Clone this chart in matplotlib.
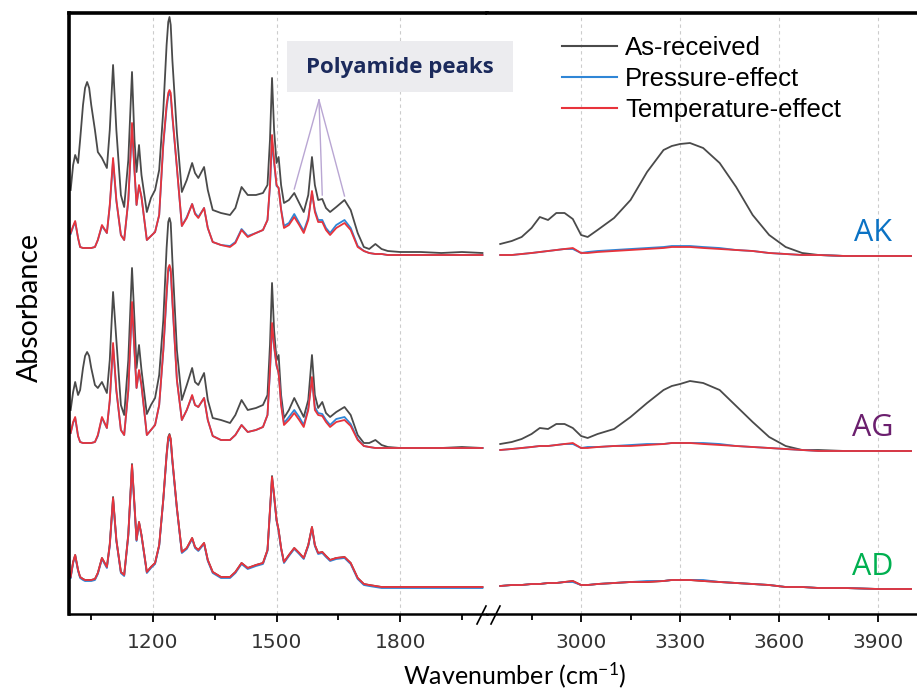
import matplotlib
matplotlib.use("Agg")
import matplotlib.pyplot as plt
from matplotlib.lines import Line2D
from matplotlib.patches import Rectangle

plt.rcParams["mathtext.fontset"] = "custom"
plt.rcParams["mathtext.rm"] = "Lato"
plt.rcParams["mathtext.it"] = "Lato:italic"
plt.rcParams["mathtext.bf"] = "Lato:bold"

# ---- data (absorbance above each sample's baseline, a.u.) ----
wn_left = [1000, 1006, 1011, 1018, 1023, 1030, 1035, 1040, 1045, 1050, 1059, 1066,
           1076, 1088, 1095, 1103, 1111, 1122, 1130, 1140, 1149, 1155,
           1160, 1166, 1172, 1185, 1195, 1205, 1215, 1225, 1233, 1237, 1240, 1243,
           1247, 1258, 1270, 1282, 1295, 1302, 1310, 1324, 1333, 1345,
           1365, 1387, 1400, 1415, 1430, 1450, 1467, 1478, 1484, 1489,
           1494, 1500, 1505, 1511, 1518, 1530, 1543, 1555, 1566, 1577,
           1586, 1593, 1601, 1611, 1620, 1630, 1645, 1665, 1680, 1697,
           1712, 1725, 1740, 1755, 1770, 1800, 1850, 1900, 1950, 2000]

wn_right = [2755, 2790, 2820, 2850, 2875, 2900, 2925, 2950, 2975, 3000,
            3020, 3050, 3100, 3150, 3200, 3250, 3275, 3300, 3330, 3370, 3420,
            3470, 3520, 3570, 3620, 3670, 3720, 3800, 3900, 4000]

# AK
ak_recv_left = [0.63, 0.88, 0.98, 0.90, 1.13, 1.48, 1.65, 1.71, 1.65, 1.48, 1.23, 1.01,
                0.95, 0.85, 1.23, 1.88, 1.23, 0.58, 0.46, 0.93, 1.81, 1.13,
                0.81, 1.08, 0.78, 0.41, 0.55, 0.63, 0.83, 1.43, 2.08, 2.31, 2.36, 2.28,
                1.93, 1.20, 0.61, 0.73, 0.90, 0.80, 0.75, 0.86, 0.63, 0.43,
                0.40, 0.38, 0.45, 0.66, 0.58, 0.58, 0.60, 0.68, 1.13, 1.75,
                1.23, 0.90, 0.96, 0.68, 0.50, 0.53, 0.60, 0.50, 0.41, 0.58,
                0.96, 0.68, 0.53, 0.54, 0.45, 0.41, 0.46, 0.53, 0.43, 0.20,
                0.06, 0.04, 0.09, 0.04, 0.02, 0.01, 0.01, 0.00, 0.01, 0.00]
ak_pres_left = [0.19, 0.26, 0.31, 0.15, 0.06, 0.05, 0.05, 0.05, 0.05, 0.05, 0.06, 0.13,
                0.27, 0.20, 0.47, 0.92, 0.52, 0.18, 0.13, 0.52, 1.25, 0.82,
                0.48, 0.67, 0.56, 0.13, 0.17, 0.21, 0.38, 1.08, 1.45, 1.57, 1.60, 1.57,
                1.36, 0.85, 0.27, 0.36, 0.49, 0.40, 0.36, 0.45, 0.25, 0.11,
                0.08, 0.07, 0.11, 0.24, 0.17, 0.20, 0.23, 0.33, 0.66, 1.12,
                0.90, 0.67, 0.65, 0.44, 0.27, 0.30, 0.39, 0.30, 0.22, 0.35,
                0.60, 0.43, 0.33, 0.33, 0.25, 0.20, 0.28, 0.33, 0.25, 0.07,
                0.02, 0.00, -0.01, -0.01, -0.02, -0.02, -0.02, -0.02, -0.02, -0.02]
ak_temp_left = [0.20, 0.27, 0.32, 0.15, 0.06, 0.05, 0.05, 0.05, 0.05, 0.05, 0.06, 0.13,
                0.28, 0.20, 0.48, 0.95, 0.53, 0.18, 0.13, 0.53, 1.30, 0.83,
                0.48, 0.68, 0.56, 0.13, 0.17, 0.21, 0.38, 1.10, 1.48, 1.60, 1.63, 1.60,
                1.38, 0.86, 0.27, 0.35, 0.49, 0.39, 0.35, 0.45, 0.25, 0.11,
                0.08, 0.06, 0.10, 0.23, 0.16, 0.20, 0.23, 0.33, 0.68, 1.18,
                0.93, 0.68, 0.65, 0.43, 0.25, 0.28, 0.36, 0.28, 0.20, 0.33,
                0.62, 0.41, 0.31, 0.31, 0.23, 0.18, 0.25, 0.30, 0.23, 0.06,
                0.02, 0.00, -0.01, -0.01, -0.02, -0.02, -0.02, -0.02, -0.02, -0.02]
ak_recv_right = [0.09, 0.12, 0.16, 0.25, 0.36, 0.33, 0.40, 0.40, 0.34, 0.18,
                 0.16, 0.23, 0.35, 0.53, 0.81, 1.03, 1.07, 1.09, 1.10, 1.05, 0.90,
                 0.66, 0.38, 0.18, 0.06, 0.00, -0.02, -0.03, -0.03, -0.03]
ak_pres_right = [-0.02, -0.02, -0.01, 0.00, 0.01, 0.02, 0.03, 0.04, 0.04, 0.00,
                 0.01, 0.02, 0.03, 0.04, 0.05, 0.06, 0.07, 0.07, 0.07, 0.06, 0.05,
                 0.03, 0.02, 0.00, -0.01, -0.02, -0.02, -0.03, -0.03, -0.03]
ak_temp_right = [-0.02, -0.02, -0.01, 0.00, 0.01, 0.02, 0.03, 0.04, 0.05, 0.00,
                 0.00, 0.01, 0.02, 0.03, 0.04, 0.05, 0.06, 0.06, 0.06, 0.05, 0.04,
                 0.03, 0.02, 0.00, -0.01, -0.02, -0.02, -0.03, -0.03, -0.03]

# AG
ag_recv_left = [0.38, 0.56, 0.66, 0.53, 0.58, 0.80, 0.92, 0.96, 0.92, 0.80, 0.63, 0.60,
                0.66, 0.55, 0.88, 1.56, 1.08, 0.43, 0.33, 0.88, 1.80, 1.28,
                0.80, 1.03, 0.78, 0.34, 0.43, 0.50, 0.73, 1.28, 2.00, 2.26, 2.30, 2.25,
                1.88, 0.98, 0.48, 0.63, 0.80, 0.66, 0.63, 0.75, 0.48, 0.30,
                0.28, 0.25, 0.33, 0.48, 0.38, 0.40, 0.43, 0.53, 1.03, 1.65,
                1.18, 0.88, 0.93, 0.53, 0.30, 0.38, 0.50, 0.40, 0.31, 0.48,
                0.93, 0.53, 0.40, 0.46, 0.35, 0.31, 0.36, 0.41, 0.33, 0.13,
                0.05, 0.05, 0.08, 0.03, 0.01, 0.00, 0.00, 0.00, 0.01, 0.00]
ag_pres_left = [0.15, 0.25, 0.30, 0.12, 0.06, 0.05, 0.05, 0.05, 0.05, 0.05, 0.06, 0.12,
                0.30, 0.20, 0.47, 1.02, 0.57, 0.18, 0.13, 0.57, 1.42, 0.96,
                0.60, 0.77, 0.62, 0.13, 0.18, 0.23, 0.43, 0.97, 1.52, 1.77, 1.80, 1.76,
                1.46, 0.68, 0.28, 0.38, 0.52, 0.43, 0.41, 0.50, 0.28, 0.12,
                0.08, 0.08, 0.13, 0.23, 0.16, 0.18, 0.21, 0.33, 0.76, 1.22,
                1.01, 0.82, 0.75, 0.45, 0.25, 0.31, 0.38, 0.31, 0.23, 0.40,
                0.69, 0.41, 0.35, 0.34, 0.28, 0.23, 0.29, 0.31, 0.24, 0.09,
                0.02, 0.01, 0.00, 0.00, 0.00, 0.00, 0.00, 0.00, 0.00, 0.00]
ag_temp_left = [0.15, 0.26, 0.31, 0.12, 0.06, 0.05, 0.05, 0.05, 0.05, 0.05, 0.06, 0.13,
                0.31, 0.20, 0.48, 1.05, 0.58, 0.18, 0.13, 0.58, 1.46, 0.98,
                0.60, 0.78, 0.63, 0.13, 0.18, 0.23, 0.43, 0.98, 1.55, 1.80, 1.83, 1.79,
                1.48, 0.68, 0.28, 0.38, 0.53, 0.43, 0.41, 0.50, 0.28, 0.12,
                0.08, 0.08, 0.13, 0.23, 0.16, 0.18, 0.21, 0.33, 0.78, 1.25,
                1.03, 0.83, 0.75, 0.43, 0.23, 0.28, 0.35, 0.28, 0.21, 0.38,
                0.71, 0.38, 0.33, 0.32, 0.26, 0.21, 0.26, 0.28, 0.22, 0.08,
                0.02, 0.01, 0.00, 0.00, 0.00, 0.00, 0.00, 0.00, 0.00, 0.00]
ag_recv_right = [0.04, 0.06, 0.09, 0.14, 0.20, 0.19, 0.24, 0.24, 0.20, 0.12,
                 0.10, 0.14, 0.19, 0.31, 0.45, 0.58, 0.62, 0.64, 0.67, 0.65, 0.58,
                 0.42, 0.26, 0.11, 0.02, -0.02, -0.02, -0.03, -0.03, -0.03]
ag_pres_right = [-0.02, -0.01, 0.00, 0.01, 0.02, 0.02, 0.03, 0.04, 0.04, 0.00,
                 0.01, 0.01, 0.02, 0.03, 0.04, 0.04, 0.05, 0.05, 0.05, 0.05, 0.04,
                 0.02, 0.01, 0.00, -0.01, -0.02, -0.03, -0.03, -0.03, -0.03]
ag_temp_right = [-0.02, -0.01, 0.00, 0.01, 0.02, 0.02, 0.03, 0.04, 0.05, 0.00,
                 0.00, 0.01, 0.02, 0.02, 0.03, 0.04, 0.05, 0.05, 0.05, 0.04, 0.03,
                 0.02, 0.01, 0.00, -0.01, -0.02, -0.03, -0.03, -0.03, -0.03]

# AD
ad_recv_left = [0.10, 0.25, 0.32, 0.17, 0.10, 0.08, 0.07, 0.07, 0.07, 0.07, 0.08, 0.14,
                0.29, 0.20, 0.43, 0.90, 0.47, 0.15, 0.12, 0.53, 1.23, 0.82,
                0.47, 0.65, 0.52, 0.15, 0.20, 0.24, 0.42, 0.88, 1.33, 1.50, 1.53, 1.48,
                1.27, 0.79, 0.35, 0.39, 0.49, 0.40, 0.37, 0.44, 0.27, 0.15,
                0.10, 0.10, 0.15, 0.24, 0.19, 0.22, 0.24, 0.37, 0.77, 1.11,
                0.92, 0.67, 0.57, 0.39, 0.25, 0.32, 0.39, 0.34, 0.29, 0.42,
                0.60, 0.42, 0.34, 0.35, 0.31, 0.27, 0.29, 0.30, 0.24, 0.09,
                0.03, 0.02, 0.01, 0.00, 0.00, 0.00, 0.00, 0.00, 0.00, 0.00]
ad_pres_left = [0.09, 0.24, 0.31, 0.16, 0.09, 0.07, 0.06, 0.06, 0.06, 0.06, 0.07, 0.13,
                0.28, 0.19, 0.41, 0.87, 0.46, 0.14, 0.11, 0.51, 1.20, 0.80,
                0.46, 0.64, 0.51, 0.14, 0.19, 0.23, 0.41, 0.87, 1.31, 1.46, 1.49, 1.45,
                1.25, 0.78, 0.34, 0.38, 0.48, 0.39, 0.36, 0.43, 0.26, 0.14,
                0.09, 0.09, 0.14, 0.23, 0.18, 0.21, 0.23, 0.36, 0.75, 1.08,
                0.90, 0.66, 0.56, 0.38, 0.24, 0.31, 0.38, 0.33, 0.28, 0.41,
                0.59, 0.41, 0.33, 0.34, 0.30, 0.26, 0.28, 0.29, 0.23, 0.08,
                0.02, 0.01, 0.00, -0.01, -0.01, -0.01, -0.01, -0.01, -0.01, -0.01]
ad_temp_left = [0.10, 0.25, 0.32, 0.17, 0.10, 0.08, 0.07, 0.07, 0.07, 0.07, 0.08, 0.14,
                0.29, 0.20, 0.42, 0.89, 0.47, 0.15, 0.12, 0.52, 1.22, 0.82,
                0.47, 0.65, 0.52, 0.15, 0.20, 0.24, 0.42, 0.88, 1.32, 1.49, 1.52, 1.48,
                1.27, 0.79, 0.35, 0.39, 0.49, 0.40, 0.37, 0.44, 0.27, 0.15,
                0.10, 0.10, 0.15, 0.24, 0.19, 0.22, 0.24, 0.37, 0.77, 1.10,
                0.92, 0.67, 0.57, 0.39, 0.25, 0.32, 0.39, 0.34, 0.29, 0.42,
                0.60, 0.42, 0.34, 0.35, 0.31, 0.27, 0.29, 0.30, 0.24, 0.09,
                0.03, 0.02, 0.01, 0.00, 0.00, 0.00, 0.00, 0.00, 0.00, 0.00]
ad_recv_right = [0.01, 0.02, 0.02, 0.03, 0.03, 0.04, 0.04, 0.05, 0.06, 0.02,
                 0.02, 0.03, 0.04, 0.05, 0.05, 0.06, 0.07, 0.07, 0.07, 0.06, 0.05,
                 0.04, 0.03, 0.02, 0.00, 0.00, -0.01, -0.01, -0.02, -0.02]
ad_pres_right = [0.01, 0.02, 0.02, 0.03, 0.03, 0.04, 0.04, 0.05, 0.05, 0.02,
                 0.02, 0.03, 0.04, 0.05, 0.06, 0.06, 0.07, 0.07, 0.07, 0.07, 0.05,
                 0.04, 0.03, 0.02, 0.00, 0.00, -0.01, -0.01, -0.02, -0.02]
ad_temp_right = [0.01, 0.02, 0.02, 0.03, 0.03, 0.04, 0.04, 0.05, 0.06, 0.02,
                 0.02, 0.03, 0.04, 0.05, 0.05, 0.06, 0.07, 0.07, 0.07, 0.06, 0.05,
                 0.04, 0.03, 0.02, 0.00, 0.00, -0.01, -0.01, -0.02, -0.02]

samples = ["AK", "AG", "AD"]
conditions = ["As-received", "Pressure-effect", "Temperature-effect"]
polyamide_peaks = [1543, 1611, 1665]

spectra = {
    "AK": [(ak_recv_left, ak_recv_right), (ak_pres_left, ak_pres_right), (ak_temp_left, ak_temp_right)],
    "AG": [(ag_recv_left, ag_recv_right), (ag_pres_left, ag_pres_right), (ag_temp_left, ag_temp_right)],
    "AD": [(ad_recv_left, ad_recv_right), (ad_pres_left, ad_pres_right), (ad_temp_left, ad_temp_right)],
}

# ---- styling ----
line_colors = ["#4a4a4a", "#2f86d6", "#e8333b"]
label_colors = {"AK": "#0a72c4", "AG": "#6b1f6e", "AD": "#00b050"}
stack_offset = {"AK": 3.61, "AG": 1.66, "AD": 0.27}

W, H = 917, 693
fig = plt.figure(figsize=(W / 100, H / 100), dpi=100)
axL = fig.add_axes([69 / W, 79 / H, (487 - 69) / W, 601 / H])
axR = fig.add_axes([487 / W, 79 / H, (917 - 487) / W, 601 / H], sharey=axL)

for s in samples:
    off = stack_offset[s]
    for (left, right), c in zip(spectra[s], line_colors):
        axL.plot(wn_left, [off + v for v in left], color=c, lw=1.3)
        axR.plot(wn_right, [off + v for v in right], color=c, lw=1.3)
    axR.text(3885, off + 0.20, s, color=label_colors[s], fontsize=22,
             family="Open Sans", ha="center", va="center")

axL.set_xlim(996, 2011)
axR.set_xlim(2715, 4018)
axL.set_ylim(0, 6.01)

axL.set_xticks([1200, 1500, 1800])
axL.set_xticks([1050, 1350, 1650, 1950], minor=True)
axR.set_xticks([3000, 3300, 3600, 3900])
axR.set_xticks([2850, 3150, 3450, 3750], minor=True)

for ax in (axL, axR):
    ax.tick_params(axis="y", left=False, labelleft=False)
    ax.tick_params(axis="x", which="major", direction="out", length=6, width=1.3,
                   pad=8, labelsize=14.5, labelcolor="#333333")
    ax.tick_params(axis="x", which="minor", direction="out", length=4, width=1.3)
    for lab in ax.get_xticklabels():
        lab.set_family("Liberation Sans Narrow")
    ax.grid(axis="x", which="major", ls=(0, (3, 3)), color="#cccccc", lw=0.8)
    ax.spines["right"].set_visible(False)
    ax.spines["top"].set_linewidth(2.6)
    ax.spines["bottom"].set_linewidth(1.8)
axL.spines["left"].set_linewidth(2.6)
axR.spines["left"].set_visible(False)

# break marks on the bottom axis
for x0 in (477, 491):
    fig.add_artist(Line2D([x0 / W, (x0 + 9) / W], [(H - 624) / H, (H - 606) / H],
                          color="black", lw=1.2, transform=fig.transFigure))

# polyamide annotation
fig.add_artist(Rectangle((287 / W, (H - 92) / H), 226 / W, 51 / H,
                         transform=fig.transFigure, facecolor="#ececef", edgecolor="none"))
fig.text(400 / W, (H - 68) / H, "Polyamide peaks", fontsize=16, fontweight="bold",
         family="Open Sans", color="#1b2a5c", ha="center", va="center")
apex = (1603, 5.14)
for p in polyamide_peaks:
    yv = stack_offset["AK"] + ak_recv_left[wn_left.index(p)] + 0.04
    axL.plot([apex[0], p], [apex[1], yv], color="#b9a6d3", lw=1.0, clip_on=False)

# legend
handles = [Line2D([], [], color=c, lw=1.5) for c in line_colors]
fig.legend(handles, conditions, loc="upper left", bbox_to_anchor=(562 / W, (H - 36) / H),
           frameon=False, prop={"family": "Liberation Sans", "size": 18.5},
           handlelength=2.15, handletextpad=0.3, labelspacing=0.27,
           borderpad=0, borderaxespad=0)

fig.text(30 / W, (H - 308) / H, "Absorbance", rotation=90, fontsize=20.5,
         family="Lato", ha="center", va="center")
fig.text(515 / W, (H - 675) / H, "Wavenumber (cm$^{-1}$)", fontsize=18,
         family="Lato", ha="center", va="center")

fig.savefig("out.png", dpi=100)
